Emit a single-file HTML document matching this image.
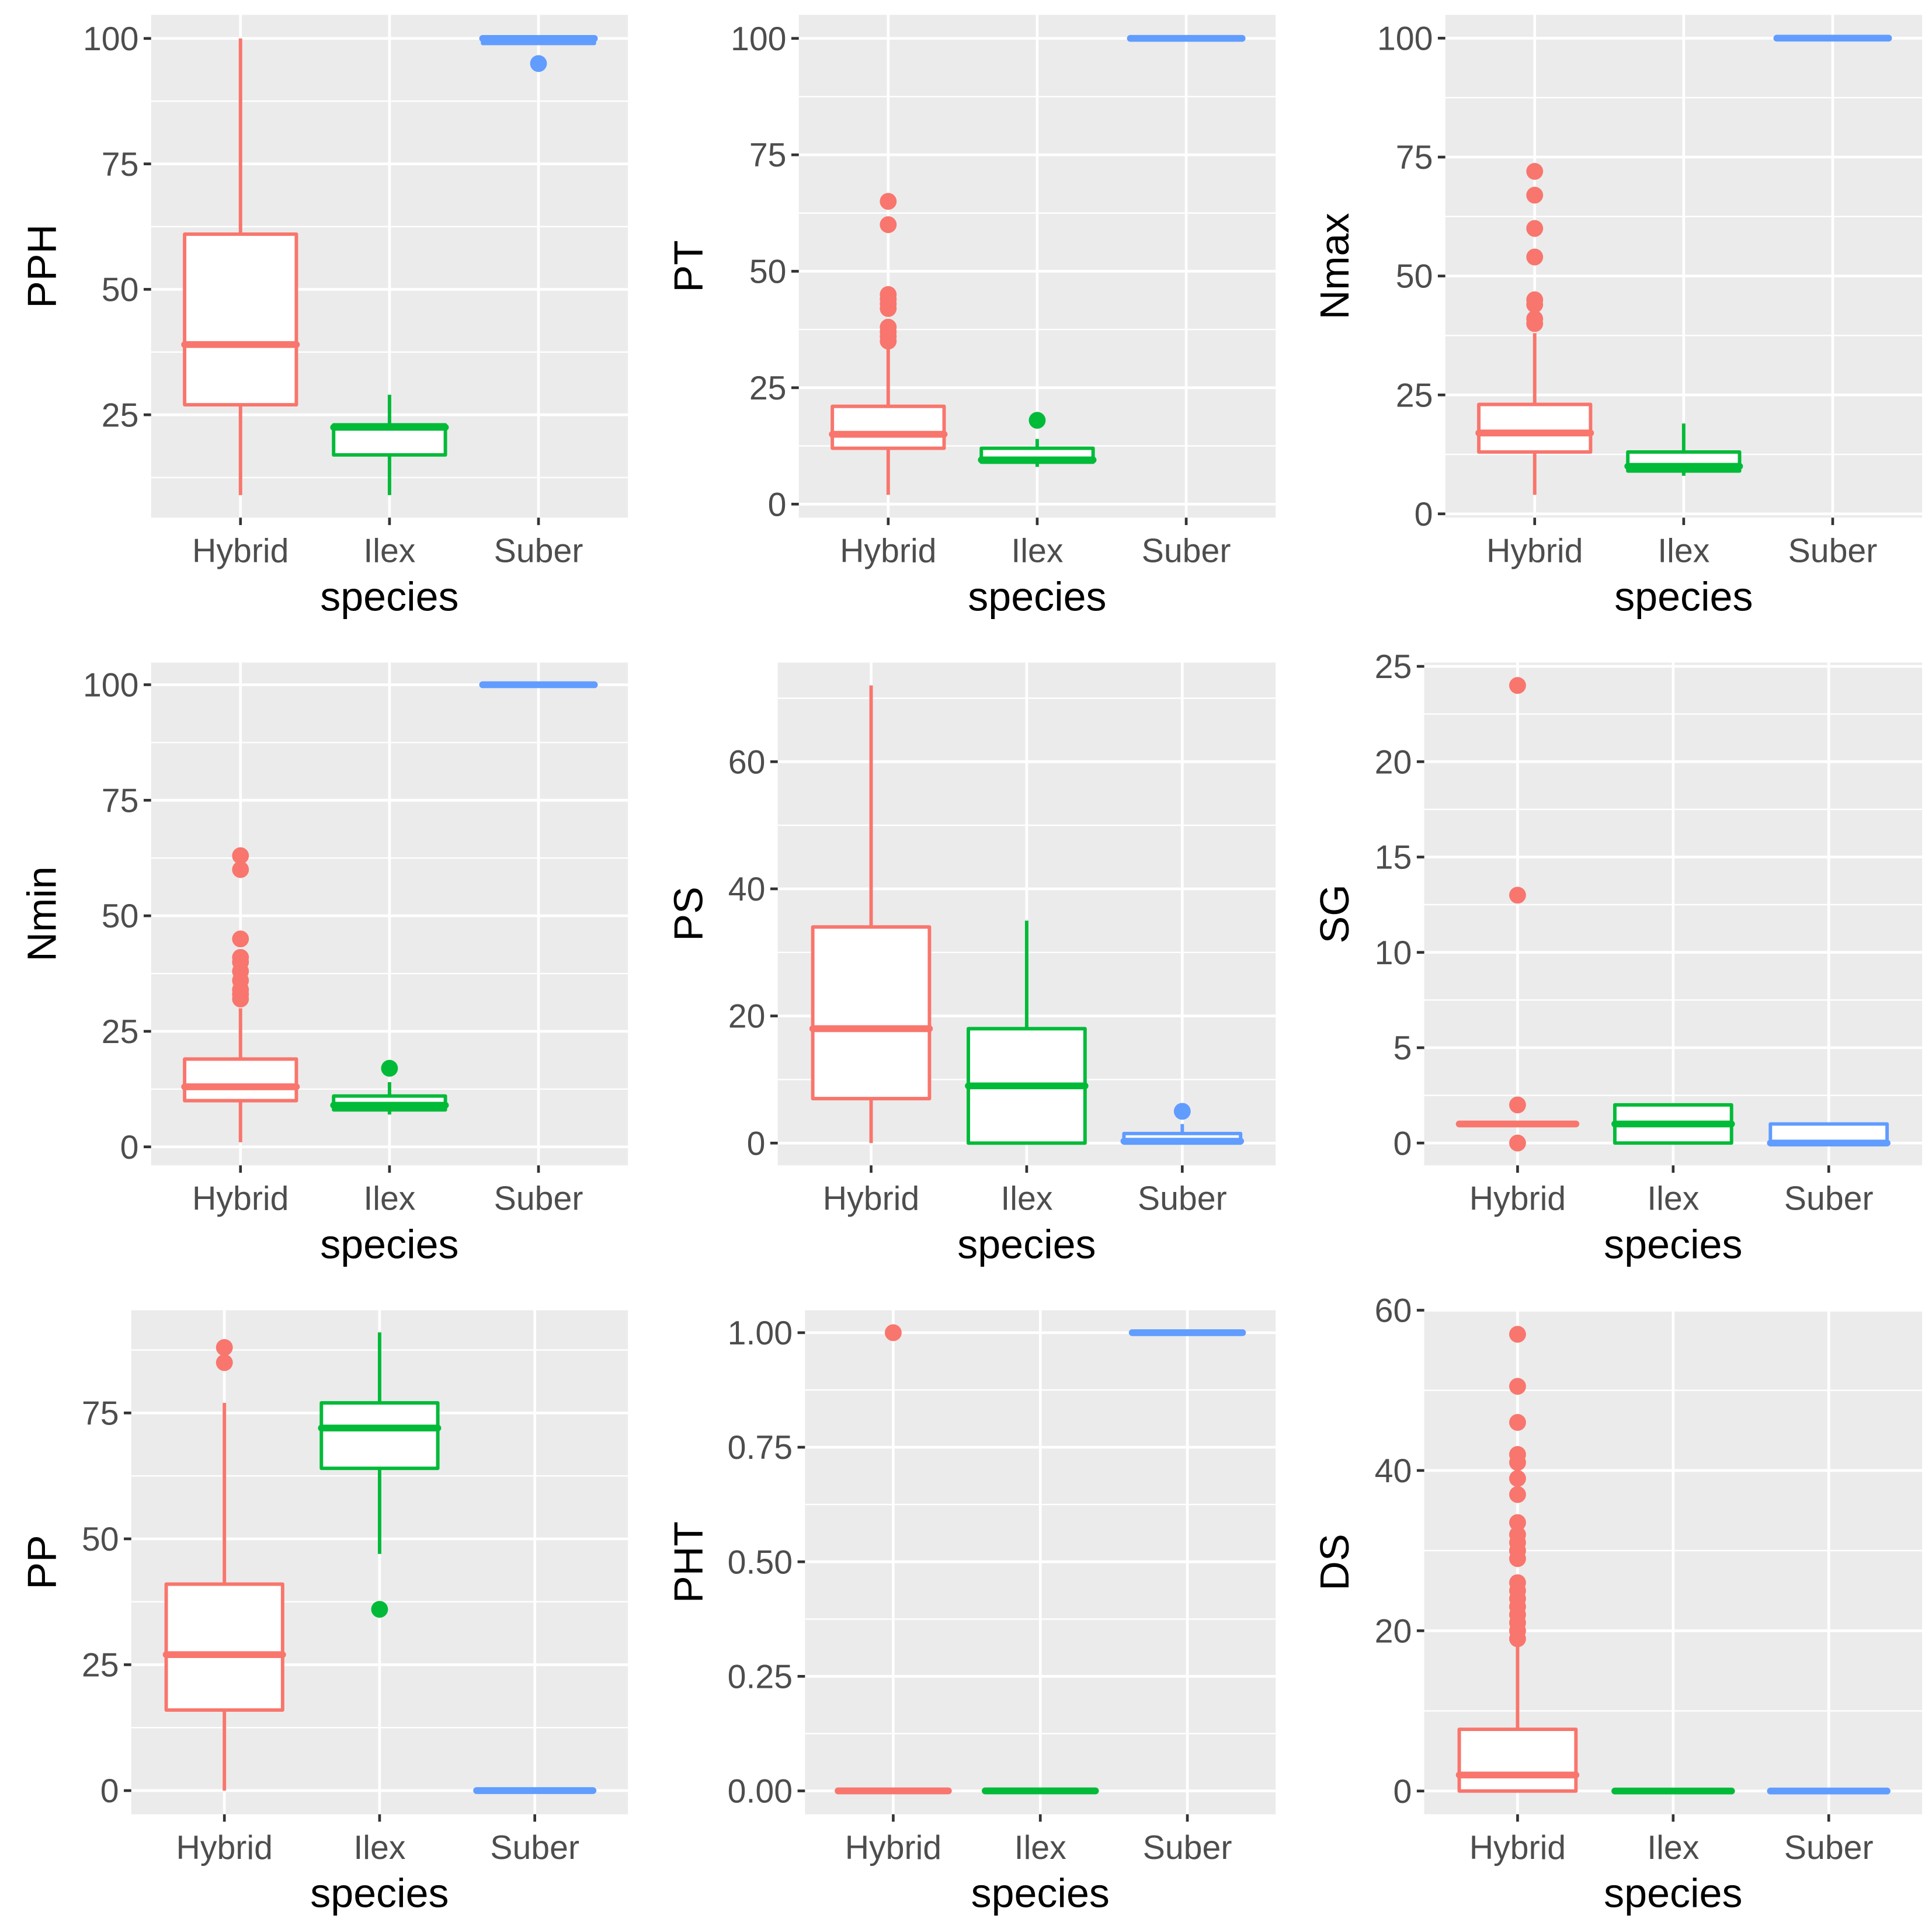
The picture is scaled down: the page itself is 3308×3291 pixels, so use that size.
<!DOCTYPE html>
<html><head><meta charset="utf-8">
<style>
html,body{margin:0;padding:0;background:#fff;}
svg{display:block;font-family:"Liberation Sans",Arial,sans-serif;}
</style></head>
<body>
<svg id="chart" width="3308" height="3291" viewBox="0 0 1560 1552" preserveAspectRatio="none" xmlns="http://www.w3.org/2000/svg"></svg>
<script>
const categories = ["Hybrid","Ilex","Suber"];
const colors = ["#F8766D","#00BA38","#619CFF"];
const panelTitles = ["PPH","PT","Nmax","Nmin","PS","SG","PP","PHT","DS"];
const tickValues = [
  [25,50,75,100],[0,25,50,75,100],[0,25,50,75,100],
  [0,25,50,75,100],[0,20,40,60],[0,5,10,15,20,25],
  [0,25,50,75],[0,0.25,0.5,0.75,1],[0,20,40,60]
];
const tickLabels = [
  ["25","50","75","100"],["0","25","50","75","100"],["0","25","50","75","100"],
  ["0","25","50","75","100"],["0","20","40","60"],["0","5","10","15","20","25"],
  ["0","25","50","75"],["0.00","0.25","0.50","0.75","1.00"],["0","20","40","60"]
];
const domains = [[4.5,104.7],[-2.9,105.05],[-0.8,104.9],[-4.0,104.8],[-3.5,75.6],[-1.17,25.2],[-4.7,95.4],[-0.051,1.049],[-2.9,60.0]];
// each stat: [lowerWhisker, Q1, median, Q3, upperWhisker]
const stats = [
  [[9,27,39,61,100],[9,17,22.5,23,29],[99,99,100,100,100]],
  [[2,12,15,21,34],[8,9,9.5,12,14],[100,100,100,100,100]],
  [[4,13,17,23,38],[8,9,10,13,19],[100,100,100,100,100]],
  [[1,10,13,19,30],[7,8,9,11,14],[100,100,100,100,100]],
  [[0,7,18,34,72],[0,0,9,18,35],[0,0,0.3,1.5,3]],
  [[1,1,1,1,1],[0,0,1,2,2],[0,0,0,1,1]],
  [[0,16,27,41,77],[47,64,72,77,91],[0,0,0,0,0]],
  [[0,0,0,0,0],[0,0,0,0,0],[1,1,1,1,1]],
  [[0,0,2,7.7,18.5],[0,0,0,0,0],[0,0,0,0,0]]
];
const outliers = [
  [[],[],[95]],
  [[35,36,37,38,42,43,44,45,60,65],[18],[]],
  [[40,41,44,45,54,60,67,72],[],[]],
  [[32,33,34,36,38,40,41,45,60,63],[17],[]],
  [[],[],[5]],
  [[0,2,13,24],[],[]],
  [[85,88],[36],[]],
  [[1],[],[]],
  [[19,20,21,22,23,24,25,26,29,30,31,32,33.5,37,39,41,42,46,50.5,57],[],[]]
];
// layout (display units)
const rects = [
  [122,12,507,418],[645,12,1030,418],[1167,12,1552,418],
  [122,535,507,941],[628,535,1030,941],[1150,535,1552,941],
  [106,1058,507,1465],[650,1058,1030,1465],[1150,1058,1552,1465]
];
const titleX = [33,555,1077];

const svg = document.getElementById('chart');
const NS = "http://www.w3.org/2000/svg";
function mk(tag, attrs, parent){
  const e = document.createElementNS(NS, tag);
  for (const k in attrs) e.setAttribute(k, attrs[k]);
  (parent||svg).appendChild(e);
  return e;
}

for (let p = 0; p < 9; p++) {
  const [x0,y0,x1,y1] = rects[p];
  const [dmin,dmax] = domains[p];
  const yS = v => y1 - (v - dmin) / (dmax - dmin) * (y1 - y0);
  const unit = (x1 - x0) / 3.2;
  const xS = i => x0 + unit * (i + 0.6);
  const g = mk('g', {});
  
  
  const bg = mk('rect', {x:x0, y:y0, width:x1-x0, height:y1-y0, fill:'#ebebeb'}, g);
  
  
  const tv = tickValues[p];
  const step = tv[1] - tv[0];
  for (let v = tv[0] - step/2; v <= dmax; v += step) {
    if (v < dmin) continue;
    const ml = mk('line', {x1:x0, x2:x1, y1:yS(v), y2:yS(v), stroke:'#fff', 'stroke-width':1.1}, g);
    
    
  }
  tv.forEach((v, k) => {
    const y = yS(v);
    const gl = mk('line', {x1:x0, x2:x1, y1:y, y2:y, stroke:'#fff', 'stroke-width':2.2}, g);
    
    
    const tk = mk('line', {x1:x0-6, x2:x0, y1:y, y2:y, stroke:'#333', 'stroke-width':2.2}, g);
    
    
    const t = mk('text', {x:x0-10, y:y+9.5, 'text-anchor':'end', 'font-size':27, fill:'#4d4d4d'}, g);
    t.textContent = tickLabels[p][k];
    
    
  });
  categories.forEach((c, i) => {
    const x = xS(i);
    const vl = mk('line', {x1:x, x2:x, y1:y0, y2:y1, stroke:'#fff', 'stroke-width':2.2}, g);
    
    
    const tk = mk('line', {x1:x, x2:x, y1:y1, y2:y1+6, stroke:'#333', 'stroke-width':2.2}, g);
    
    
    const t = mk('text', {x:x, y:y1+36, 'text-anchor':'middle', 'font-size':27, fill:'#4d4d4d'}, g);
    t.textContent = c;
    
    
  });
  categories.forEach((c, i) => {
    const [lw,q1,md,q3,uw] = stats[p][i];
    const x = xS(i), w = unit * 0.75, col = colors[i];
    const bx = mk('g', {}, g);
    
    
    const w1 = mk('line', {x1:x, x2:x, y1:yS(q3), y2:yS(uw), stroke:col, 'stroke-width':2.8}, bx);
    
    
    const w2 = mk('line', {x1:x, x2:x, y1:yS(q1), y2:yS(lw), stroke:col, 'stroke-width':2.8}, bx);
    
    
    const h = Math.max(0.01, yS(q1) - yS(q3));
    const r = mk('rect', {x:x-w/2, y:yS(q3), width:w, height:h, fill:'#fff', stroke:col, 'stroke-width':2.8, 'stroke-linejoin':'round'}, bx);
    
    
    const m = mk('line', {x1:x-w/2, x2:x+w/2, y1:yS(md), y2:yS(md), stroke:col, 'stroke-width':5.5, 'stroke-linecap':'round'}, bx);
    
    
    outliers[p][i].forEach(v => {
      const o = mk('circle', {cx:x, cy:yS(v), r:6.8, fill:col}, bx);
      
      
    });
  });
  const col = p % 3;
  const cy = (y0 + y1) / 2;
  const yt = mk('text', {x:0, y:0, 'text-anchor':'middle', 'font-size':33, fill:'#000', transform:`translate(${titleX[col]+12},${cy}) rotate(-90)`}, g);
  yt.textContent = panelTitles[p];
  
  
  const xt = mk('text', {x:(x0+x1)/2, y:y1+75, 'text-anchor':'middle', 'font-size':33, fill:'#000'}, g);
  xt.textContent = 'species';
  
  
}
</script>
</body></html>
